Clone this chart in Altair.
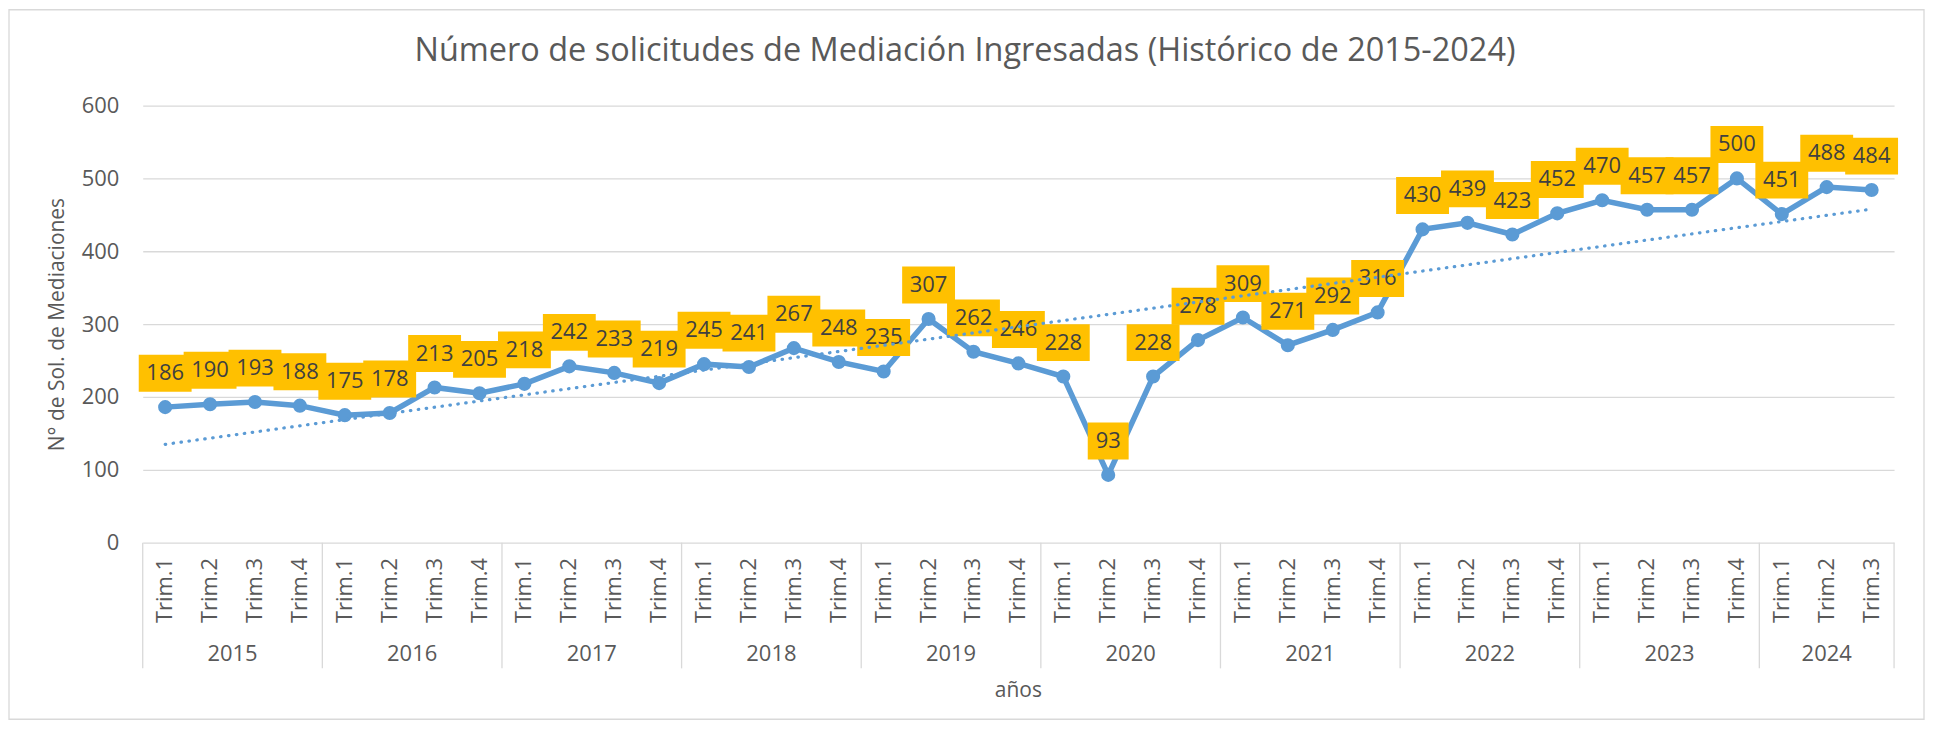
import altair as alt
import pandas as pd

# ---------------- data ----------------
years = ["2015", "2016", "2017", "2018", "2019", "2020", "2021", "2022", "2023", "2024"]
quarters_per_year = [4, 4, 4, 4, 4, 4, 4, 4, 4, 3]
quarter_labels = ["Trim.1", "Trim.2", "Trim.3", "Trim.4"]
values = [186, 190, 193, 188,
          175, 178, 213, 205,
          218, 242, 233, 219,
          245, 241, 267, 248,
          235, 307, 262, 246,
          228, 93, 228, 278,
          309, 271, 292, 316,
          430, 439, 423, 452,
          470, 457, 457, 500,
          451, 488, 484]
y_ticks = [0, 100, 200, 300, 400, 500, 600]
title_text = "Número de solicitudes de Mediación Ingresadas (Histórico de 2015-2024)"
y_title = "N° de Sol. de Mediaciones"
x_title = "años"

# ---------------- tables built from the lists ----------------
rows = []
idx = 0
year_rows = []
bounds = [-0.5]
for y, n in zip(years, quarters_per_year):
    start = idx
    for q in range(n):
        v = values[idx]
        rows.append({"idx": idx, "year": y, "trim": quarter_labels[q],
                     "value": v, "digits": str(len(str(v)))})
        idx += 1
    year_rows.append({"year": y, "center": (start + idx - 1) / 2})
    bounds.append(idx - 0.5)
df = pd.DataFrame(rows)
df_years = pd.DataFrame(year_rows)
df_bounds = pd.DataFrame({"b": bounds})
one = pd.DataFrame({"k": [0]})

W, H = 1755, 438
PAD_L, PAD_T, PAD_R, PAD_B = 135, 97, 31, 178
FONT = "Open Sans"
TXT = "#595959"
GRID = "#D9D9D9"
BLUE = "#5B9BD5"
GOLD = "#FFC000"
FS = 22
n = len(values)

xs = alt.Scale(domain=[-0.5, n - 0.5], nice=False, zero=False)
ys = alt.Scale(domain=[0, 600], nice=False)

def X(field):
    return alt.X(field, scale=xs, axis=None)

Y_axis = alt.Y("value:Q", scale=ys, axis=alt.Axis(
    values=y_ticks, grid=True, gridColor=GRID, gridWidth=1.3,
    domain=False, ticks=False, labelFont=FONT, labelFontSize=FS,
    labelColor=TXT, labelPadding=24, title=y_title, titleFont=FONT,
    titleFontSize=21, titleFontWeight="normal", titleColor=TXT,
    titleX=-85, titleY=H / 2, titleAngle=270, titleAlign="center",
    titleBaseline="middle"))
Y_plain = alt.Y("value:Q", scale=ys)

base = alt.Chart(df)

border = alt.Chart(one).mark_rect(filled=False, stroke=GRID, strokeWidth=1.3).encode(
    x=alt.value(-PAD_L + 1), x2=alt.value(W + PAD_R - 1),
    y=alt.value(-PAD_T + 1), y2=alt.value(H + PAD_B - 1))

line = base.mark_line(color=BLUE, strokeWidth=5.5).encode(x=X("idx:Q"), y=Y_axis)
pts = base.mark_circle(color=BLUE, opacity=1, size=200).encode(x=X("idx:Q"), y=Y_plain)

box3 = "M-1.432,-1L1.432,-1L1.432,1L-1.432,1Z"
box2 = "M-1.108,-1L1.108,-1L1.108,1L-1.108,1Z"
boxes = base.mark_point(filled=True, fill=GOLD, opacity=1, strokeWidth=0,
                        size=1369, yOffset=-34).encode(
    x=X("idx:Q"), y=Y_plain,
    shape=alt.Shape("digits:N", scale=alt.Scale(domain=["2", "3"], range=[box2, box3]),
                    legend=None))
labels = base.mark_text(yOffset=-34, font=FONT, fontSize=FS, color="#404040",
                        baseline="middle", align="center").encode(
    x=X("idx:Q"), y=Y_plain, text="value:Q")

trend = base.transform_regression("idx", "value", method="linear",
                                  extent=[0, n - 1]).mark_line(
    color=BLUE, strokeWidth=3.2, strokeDash=[0.5, 7.5], strokeCap="round").encode(
    x=X("idx:Q"), y=Y_plain)

trims = base.mark_text(angle=270, align="center", baseline="middle", font=FONT,
                       fontSize=FS, color=TXT).encode(
    x=X("idx:Q"), y=alt.value(486), text="trim:N")
yrs = alt.Chart(df_years).mark_text(align="center", baseline="middle", font=FONT,
                                     fontSize=FS, color=TXT).encode(
    x=X("center:Q"), y=alt.value(550), text="year:N")
seps = alt.Chart(df_bounds).mark_rule(color=GRID, strokeWidth=1.3).encode(
    x=X("b:Q"), y=alt.value(H), y2=alt.value(564))

xtitle = alt.Chart(one).mark_text(font=FONT, fontSize=21, color=TXT,
                                  align="center", baseline="middle").encode(
    x=alt.value(W / 2), y=alt.value(587), text=alt.value(x_title))
title = alt.Chart(one).mark_text(font=FONT, fontSize=32.5, color=TXT,
                                 align="center", baseline="alphabetic").encode(
    x=alt.value(824), y=alt.value(-45), text=alt.value(title_text))

chart = alt.layer(border, line, pts, boxes, labels, trend, trims, yrs, seps,
                  xtitle, title).properties(
    width=W, height=H,
    padding={"left": PAD_L, "top": PAD_T, "right": PAD_R, "bottom": PAD_B},
    autosize=alt.AutoSizeParams(type="none"),
    background="white",
).configure_view(stroke=None)

chart.save("out.html", embed_options={"renderer": "svg", "actions": False})
